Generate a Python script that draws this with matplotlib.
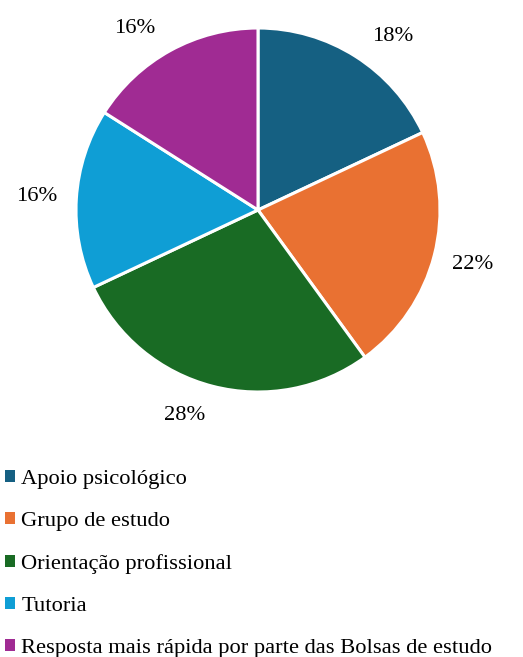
import numpy as np
import matplotlib.pyplot as plt
from matplotlib.patches import Patch

categories = ["Apoio psicológico", "Grupo de estudo", "Orientação profissional",
              "Tutoria", "Resposta mais rápida por parte das Bolsas de estudo"]
values = [18, 22, 28, 16, 16]
colors = ["#156082", "#E97132", "#196B24", "#0F9ED5", "#A02B93"]
# small angular nudges of the percent labels (degrees), like Excel's best fit
label_shift = [-5, 0, -5, 0, 5]

plt.rcParams['font.family'] = ['Liberation Serif', 'DejaVu Serif']

fig = plt.figure(figsize=(5.23, 6.57), dpi=100)
ax = fig.add_axes([76 / 523, (657 - 392) / 657, 364 / 523, 364 / 657])

wedges, texts, autotexts = ax.pie(
    values, colors=colors, startangle=90, counterclock=False,
    autopct=lambda p: "%d%%" % round(p), pctdistance=1.22,
    wedgeprops=dict(edgecolor="white", linewidth=2.2),
    textprops=dict(fontsize=16.2, color="black"))
for w, t, s in zip(wedges, autotexts, label_shift):
    a = np.deg2rad((w.theta1 + w.theta2) / 2 + s)
    t.set_position((1.22 * np.cos(a), 1.2 * np.sin(a)))
ax.set_xlim(-1, 1)
ax.set_ylim(-1, 1)
ax.set_aspect("equal")
ax.axis("off")

handles = [Patch(facecolor=c, edgecolor="none") for c in colors]
fig.legend(handles, categories, loc="upper left", bbox_to_anchor=(0.0, 1 - 465 / 657),
           frameon=False, fontsize=16.2, handlelength=0.45, handleheight=0.45,
           handletextpad=0.3, labelspacing=1.03, borderpad=0.2, borderaxespad=0)

fig.savefig("out.png", dpi=100)
